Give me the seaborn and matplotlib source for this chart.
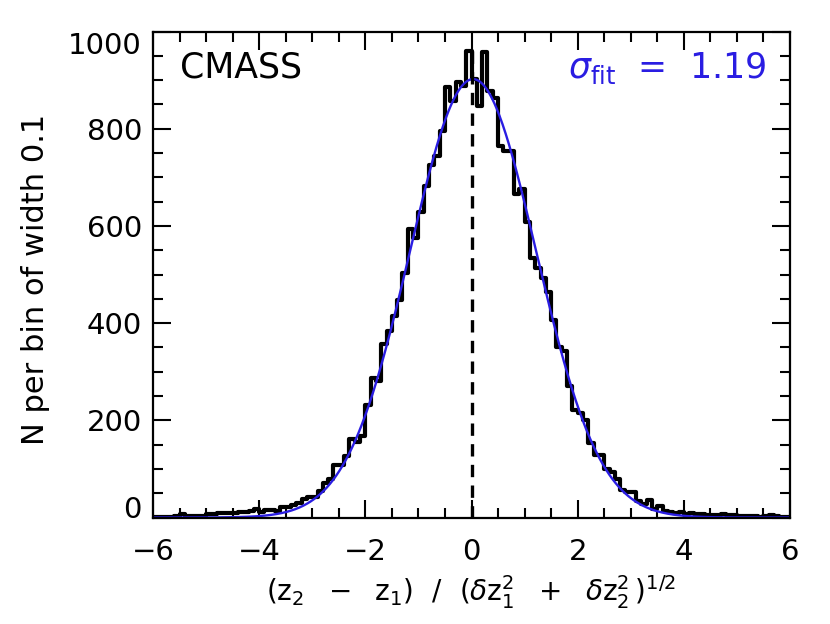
import numpy as np
import pandas as pd
import matplotlib
matplotlib.use("Agg")
import matplotlib.pyplot as plt
import seaborn as sns
from matplotlib.ticker import MultipleLocator, FixedLocator

# ---- data ----
bin_start = -6.0
bin_width = 0.1
counts = [
    2, 1, 2, 2, 3, 8, 3, 3, 4, 4,            # -6.0 .. -5.1
    8, 8, 9, 9, 10, 10, 11, 12, 13, 17,      # -5.0 .. -4.1
    12, 16, 16, 14, 21, 21, 26, 30, 38, 43,  # -4.0 .. -3.1
    43, 55, 71, 79, 108, 108, 127, 161, 156, 167,  # -3.0 .. -2.1
    232, 287, 280, 357, 384, 414, 448, 504, 594, 576,  # -2.0 .. -1.1
    629, 682, 725, 743, 796, 885, 858, 896, 887, 960,  # -1.0 .. -0.1
    902, 846, 958, 877, 863, 765, 754, 754, 666, 676,  # 0.0 .. 0.9
    608, 534, 513, 493, 463, 406, 350, 342, 271, 222,  # 1.0 .. 1.9
    215, 201, 153, 129, 129, 99, 93, 79, 56, 53,       # 2.0 .. 2.9
    53, 33, 28, 35, 17, 24, 14, 11, 9, 11,             # 3.0 .. 3.9
    8, 9, 7, 8, 6, 6, 5, 7, 5, 5,                      # 4.0 .. 4.9
    3, 4, 3, 3, 2, 3, 5, 4, 2, 2,                      # 5.0 .. 5.9
]
sigma_fit = 1.19
fit_mean = 0.03
fit_peak = 902.0

x_ticks = [-6, -4, -2, 0, 2, 4, 6]
y_ticks = [0, 200, 400, 600, 800, 1000]

label_dataset = "CMASS"
xlabel = (r"$(z_2\ \ -\ \ z_1)\ \ /\ \ (\mathit{\delta}z_1^2\ \ +\ \ "
          r"\mathit{\delta}z_2^2\,)^{1/2}$")
ylabel = "N per bin of width 0.1"

edges = [round(bin_start + bin_width * i, 3) for i in range(len(counts) + 1)]
centers = [e + bin_width / 2 for e in edges[:-1]]
hist_df = pd.DataFrame({"x": centers, "w": counts})
xs = np.linspace(-6, 6, 801)
ys = fit_peak * np.exp(-0.5 * ((xs - fit_mean) / sigma_fit) ** 2)
fit_df = pd.DataFrame({"x": xs, "y": ys})

# ---- style ----
sns.set_theme(style="ticks")
plt.rcParams["font.family"] = ["DejaVu Sans"]
plt.rcParams["mathtext.fontset"] = "custom"
plt.rcParams["mathtext.rm"] = "DejaVu Sans"
plt.rcParams["mathtext.it"] = "DejaVu Sans:italic"
plt.rcParams["mathtext.bf"] = "DejaVu Sans:bold"
plt.rcParams["mathtext.default"] = "regular"
plt.rcParams["text.color"] = "black"
plt.rcParams["axes.labelcolor"] = "black"
plt.rcParams["xtick.color"] = "black"
plt.rcParams["ytick.color"] = "black"

blue = "#2a1de2"
tick_fs = 21

fig = plt.figure(figsize=(8.3, 6.24), dpi=100)
ax = fig.add_axes([153 / 830, 1 - 517.5 / 624, 637 / 830, 486 / 624])

sns.histplot(data=hist_df, x="x", weights="w", bins=edges, element="step",
             fill=False, color="black", linewidth=3.0, ax=ax)
for coll in ax.collections + ax.patches:
    coll.set_linewidth(3.0)
    coll.set_joinstyle("miter")
sns.lineplot(data=fit_df, x="x", y="y", color=blue, linewidth=1.7, ax=ax,
             estimator=None, sort=False)
ax.plot([0, 0], [0, 975], color="black", linewidth=2.4,
        linestyle=(0, (3.7, 2.5)))

ax.set_xlim(-6, 6)
ax.set_ylim(0, 1000)
ax.xaxis.set_major_locator(FixedLocator(x_ticks))
ax.xaxis.set_minor_locator(MultipleLocator(0.5))
ax.yaxis.set_major_locator(FixedLocator(y_ticks))
ax.yaxis.set_minor_locator(MultipleLocator(50))
ax.tick_params(which="major", direction="in", length=13, width=1.5,
               top=True, right=True, colors="black")
ax.tick_params(axis="x", which="major", pad=15)
ax.tick_params(axis="y", which="major", pad=8)
ax.tick_params(which="minor", direction="in", length=7, width=1.5,
               top=True, right=True)
ax.set_yticks(y_ticks)
ax.set_yticklabels([str(v) for v in y_ticks], fontsize=tick_fs)
ax.set_xticks(x_ticks)
ax.set_xticklabels([("\u2212%d" % -v) if v < 0 else str(v) for v in x_ticks],
                   fontsize=tick_fs)
for sp in ax.spines.values():
    sp.set_linewidth(1.6)
    sp.set_color("black")

ax.set_xlabel(xlabel, fontsize=20, labelpad=5)
ax.set_ylabel(ylabel, fontsize=22)
ax.yaxis.set_label_coords(-0.162, 0.49)

ax.text(-5.49, 925, label_dataset, fontsize=25, ha="left", va="center", color="black")
ax.text(5.56, 925, r"$\mathit{\sigma}_{\rm fit}$  =  %.2f" % sigma_fit, fontsize=25,
        ha="right", va="center", color=blue)

ylabels = ax.get_yticklabels()
ylabels[0].set_verticalalignment("baseline")
ylabels[-1].set_verticalalignment("top")

fig.savefig("out.png", dpi=100, facecolor="white")
